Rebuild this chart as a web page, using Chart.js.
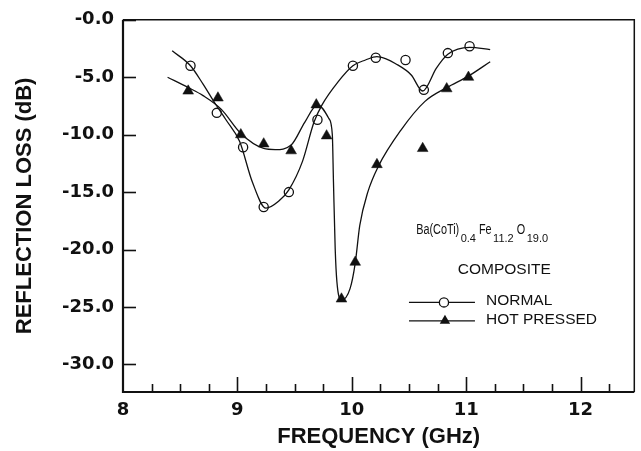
<!DOCTYPE html>
<html>
<head>
<meta charset="utf-8">
<title>Reflection loss vs frequency</title>
<script src="https://cdn.jsdelivr.net/npm/chart.js@4.4.1/dist/chart.umd.min.js"></script>
<style>
    html, body { margin: 0; padding: 0; background: #fff; }
    #wrap { width: 641px; height: 451px; }
</style>
</head>
<body>
<div id="wrap"><canvas id="rlChart" width="641" height="451"></canvas></div>
<script>
// measured points
const normalFreq = [8.59, 8.82, 9.05, 9.23, 9.45, 9.70, 10.01, 10.21, 10.47, 10.63, 10.84, 11.03];
const normalLoss = [-4.0, -8.1, -11.1, -16.3, -15.0, -8.7, -4.0, -3.3, -3.5, -6.1, -2.9, -2.3];
const hotFreq = [8.57, 8.83, 9.03, 9.23, 9.47, 9.69, 9.78, 9.91, 10.03, 10.22, 10.62, 10.83, 11.02];
const hotLoss = [-6.2, -6.8, -10.0, -10.8, -11.4, -7.4, -10.1, -24.3, -21.1, -12.6, -11.2, -6.0, -5.0];

// hand drawn fit curves
const normalFitFreq = [8.43, 8.59, 8.70, 8.80, 8.90, 9.02, 9.13, 9.25, 9.36, 9.45, 9.57, 9.67, 9.74, 9.88, 10.01, 10.12, 10.22, 10.30, 10.38, 10.52, 10.62, 10.74, 10.84, 11.03, 11.21];
const normalFitLoss = [-2.7, -4.0, -5.6, -7.2, -8.7, -10.6, -14.1, -16.4, -15.8, -14.8, -12.3, -8.9, -7.4, -5.4, -4.0, -3.5, -3.2, -3.4, -3.8, -4.8, -6.2, -4.2, -3.0, -2.4, -2.6];
const hotFitFreq = [8.39, 8.57, 8.70, 8.86, 9.03, 9.23, 9.33, 9.47, 9.59, 9.70, 9.80, 9.83, 9.84, 9.855, 9.87, 9.91, 9.985, 10.03, 10.07, 10.14, 10.23, 10.43, 10.64, 10.83, 11.02, 11.21];
const hotFitLoss = [-5.0, -5.9, -6.6, -7.8, -9.9, -11.2, -11.3, -10.9, -8.9, -7.4, -8.6, -10.0, -14.1, -19.9, -22.8, -24.4, -23.4, -21.2, -17.9, -15.0, -12.8, -9.6, -7.1, -5.9, -4.9, -3.65];

const freqRange = [8, 12.47];
const lossRange = [-32.4, 0];
const seriesNames = ['NORMAL', 'HOT PRESSED'];
const formulaParts = [['Ba(CoTi)', 0], ['0.4', 1], ['Fe', 0], ['11.2', 1], ['O', 0], ['19.0', 1]];
const compositeLabel = 'COMPOSITE';

const ink = '#111';
const tickFont = '"DejaVu Sans", sans-serif';
const noteFont = '"Liberation Sans", Arial, sans-serif';

function toXY(xs, ys) {
    return xs.map((v, i) => ({ x: v, y: ys[i] }));
}

function drawCircle(ctx, x, y) {
    ctx.beginPath();
    ctx.arc(x, y, 4.6, 0, Math.PI * 2);
    ctx.fillStyle = '#fff';
    ctx.fill();
    ctx.lineWidth = 1.3;
    ctx.stroke();
}

function drawTriangle(ctx, x, y) {
    const r = 6;
    ctx.beginPath();
    ctx.moveTo(x, y - r);
    ctx.lineTo(x + r * 0.866, y + r * 0.5);
    ctx.lineTo(x - r * 0.866, y + r * 0.5);
    ctx.closePath();
    ctx.fillStyle = ink;
    ctx.fill();
}

// frame, inward ticks, formula and legend
const framePlugin = {
    id: 'framePlugin',
    afterDraw(chart) {
        const { ctx, chartArea: a, scales: { x, y } } = chart;
        ctx.save();
        ctx.strokeStyle = ink;
        ctx.fillStyle = ink;

        ctx.lineWidth = 1.6;
        x.ticks.forEach(t => {
            const q = Math.round(t.value * 4);
            if (Math.abs(t.value * 4 - q) > 1e-6 || t.value <= x.min) return;
            const px = Math.round(x.getPixelForValue(t.value)) + 0.5;
            const len = q % 4 === 0 ? 15 : 8;
            ctx.beginPath();
            ctx.moveTo(px, a.bottom);
            ctx.lineTo(px, a.bottom - len);
            ctx.stroke();
        });
        y.ticks.forEach(t => {
            const py = Math.round(y.getPixelForValue(t.value)) + 0.5;
            ctx.beginPath();
            ctx.moveTo(a.left, py);
            ctx.lineTo(a.left + 13, py);
            ctx.stroke();
        });

        ctx.lineWidth = 1.5;
        ctx.beginPath();
        ctx.moveTo(a.left, a.top);
        ctx.lineTo(a.right, a.top);
        ctx.lineTo(a.right, a.bottom);
        ctx.stroke();
        ctx.lineWidth = 2.2;
        ctx.beginPath();
        ctx.moveTo(a.left, a.top);
        ctx.lineTo(a.left, a.bottom);
        ctx.lineTo(a.right, a.bottom);
        ctx.stroke();

        // chemical formula with subscripts
        let fx = x.getPixelForValue(10.563);
        const fy = y.getPixelForValue(-18.66);
        ctx.textBaseline = 'alphabetic';
        ctx.textAlign = 'left';
        formulaParts.forEach(([s, sub]) => {
            ctx.font = sub ? `11px ${noteFont}` : `15.5px ${noteFont}`;
            const sx = sub ? 1 : 0.7;
            ctx.save();
            ctx.translate(fx, fy + (sub ? 8 : 0));
            ctx.scale(sx, 1);
            ctx.fillText(s, 0, 0);
            ctx.restore();
            fx += ctx.measureText(s).width * sx + (sub ? 3 : 1.5);
        });

        ctx.font = `15.5px ${noteFont}`;
        ctx.textAlign = 'center';
        ctx.fillText(compositeLabel, x.getPixelForValue(11.333), y.getPixelForValue(-22.1));

        // legend
        const lx = x.getPixelForValue(10.50);
        const rows = [y.getPixelForValue(-24.6), y.getPixelForValue(-26.2)];
        ctx.textAlign = 'left';
        rows.forEach((ry, i) => {
            ctx.lineWidth = 1.2;
            ctx.beginPath();
            ctx.moveTo(lx, ry);
            ctx.lineTo(lx + 66, ry);
            ctx.stroke();
            if (i === 0) drawCircle(ctx, lx + 35, ry);
            else drawTriangle(ctx, lx + 36, ry);
            ctx.fillStyle = ink;
            ctx.fillText(seriesNames[i], lx + 77, ry + 3);
        });
        ctx.restore();
    }
};

const ctx = document.getElementById('rlChart').getContext('2d');
const rlChart = new Chart(ctx, {
    type: 'scatter',
    plugins: [framePlugin],
    data: {
        datasets: [
            {
                label: 'normal fit',
                type: 'line',
                data: toXY(normalFitFreq, normalFitLoss),
                borderColor: ink,
                borderWidth: 1.3,
                pointRadius: 0,
                cubicInterpolationMode: 'monotone',
                fill: false
            },
            {
                label: 'hot pressed fit',
                type: 'line',
                data: toXY(hotFitFreq, hotFitLoss),
                borderColor: ink,
                borderWidth: 1.3,
                pointRadius: 0,
                cubicInterpolationMode: 'monotone',
                fill: false
            },
            {
                label: seriesNames[0],
                data: toXY(normalFreq, normalLoss),
                pointStyle: 'circle',
                pointRadius: 4.6,
                pointBorderWidth: 1.3,
                pointBackgroundColor: '#fff',
                pointBorderColor: ink
            },
            {
                label: seriesNames[1],
                data: toXY(hotFreq, hotLoss),
                pointStyle: 'triangle',
                pointRadius: 6.2,
                pointBorderWidth: 0.5,
                pointBackgroundColor: ink,
                pointBorderColor: ink
            }
        ]
    },
    options: {
        responsive: false,
        animation: false,
        layout: { padding: { top: 18, right: 3, left: 0, bottom: 0 } },
        plugins: {
            legend: { display: false },
            title: { display: false },
            tooltip: { enabled: false }
        },
        scales: {
            x: {
                type: 'linear',
                min: freqRange[0],
                max: freqRange[1],
                afterFit(scale) { scale.height = 59; },
                grid: { display: false, drawTicks: false },
                border: { display: false },
                ticks: {
                    stepSize: 0.25,
                    includeBounds: false,
                    autoSkip: false,
                    maxRotation: 0,
                    padding: 8,
                    color: ink,
                    font: { family: tickFont, size: 18, weight: 'bold' },
                    callback: v => Number.isInteger(v) ? String(v) : ''
                },
                title: {
                    display: true,
                    text: 'FREQUENCY (GHz)',
                    color: ink,
                    font: { family: noteFont, size: 22, weight: 'bold', lineHeight: 1.2 },
                    padding: { top: 0, bottom: 1 }
                }
            },
            y: {
                type: 'linear',
                min: lossRange[0],
                max: lossRange[1],
                afterFit(scale) { scale.width = 123; },
                grid: { display: false, drawTicks: false },
                border: { display: false },
                ticks: {
                    stepSize: 5,
                    includeBounds: false,
                    padding: 9,
                    color: ink,
                    font: { family: tickFont, size: 18, weight: 'bold' },
                    callback: v => v === 0 ? '-0.0' : v.toFixed(1)
                },
                title: {
                    display: true,
                    text: 'REFLECTION LOSS (dB)',
                    color: ink,
                    font: { family: noteFont, size: 22, weight: 'bold', lineHeight: 1.2 },
                    padding: { top: 12, bottom: 0 }
                }
            }
        }
    }
});
</script>
</body>
</html>
